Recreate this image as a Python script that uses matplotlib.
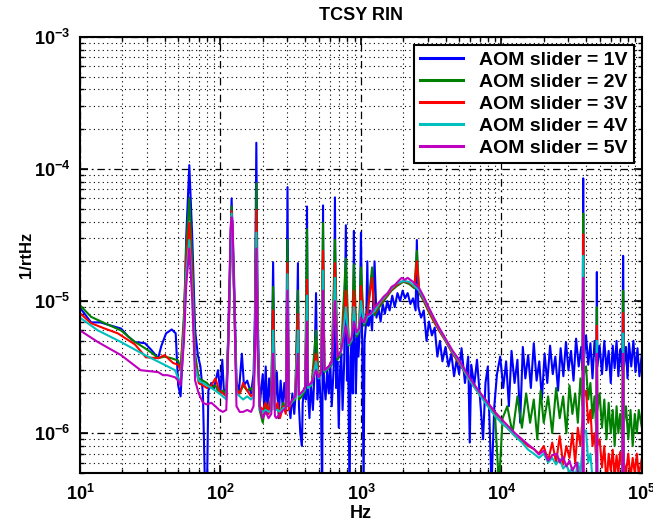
import matplotlib
matplotlib.use("Agg")
import matplotlib.pyplot as plt
from matplotlib.ticker import FixedLocator, LogLocator, NullFormatter

# (Hz, 1/rtHz), one list per AOM slider setting
aom_1v = [(10, 8.9e-6), (11, 7.8e-6), (12, 6.9e-6), (14, 6.9e-6), (16, 6.6e-6), (19.6, 6.2e-6),
          (22, 5.4e-6), (24.6, 4.9e-6), (29, 4.8e-6), (32, 4.3e-6), (36, 3.7e-6), (38, 4.6e-6),
          (41, 5.7e-6), (45, 6.1e-6), (48, 5.7e-6), (50, 2.3e-6), (52, 1.9e-6), (55, 6e-6),
          (57, 3e-5), (60, 1.07e-4), (63, 3e-5), (66, 6e-6), (69, 3.9e-6), (72, 3.2e-6),
          (75, 2.0e-6), (78, 3e-7), (80, 3e-7), (82, 2.1e-6), (86, 2.4e-6), (90, 2.2e-6),
          (96, 3.0e-6), (100, 2.0e-6), (103, 3.6e-6), (106, 2.0e-6), (111, 2.2e-6), (115, 1e-5),
          (120, 6.0e-5), (125, 1.5e-5), (130, 2.5e-6), (135, 2.0e-6), (142, 4.0e-6), (147, 2.3e-6),
          (155, 2.5e-6), (165, 2.0e-6), (172, 2.8e-6), (176, 8e-6), (180, 1.58e-4), (184, 8e-6),
          (190, 1.6e-6), (200, 2.8e-6), (205, 1.5e-6), (210, 3.2e-6), (215, 1.4e-6), (222, 2.6e-6),
          (230, 1.5e-6), (237, 1.97e-5), (244, 1.6e-6), (252, 2.9e-6), (260, 1.3e-6), (268, 2.5e-6),
          (277, 1.6e-6), (285, 2.4e-6), (293, 1.6e-6), (300, 7.3e-5), (306, 1.7e-6), (315, 1.3e-6),
          (325, 2.0e-6), (335, 1.4e-6), (345, 2.2e-6), (356, 1.94e-5), (362, 1.6e-6), (370, 1.0e-6),
          (380, 8e-7), (385, 1.7e-6), (395, 2.2e-6), (405, 1.8e-6), (413, 5.2e-5), (420, 2.0e-6),
          (430, 1.3e-6), (440, 2.4e-6), (455, 1.5e-6), (465, 2.6e-6), (479, 1.15e-5), (490, 1.8e-6),
          (505, 2.8e-6), (520, 1.5e-6), (530, 3e-7), (537, 5.3e-5), (545, 2.5e-6), (560, 1.8e-6),
          (575, 3.0e-6), (590, 2.0e-6), (605, 3.4e-6), (620, 1.6e-6), (640, 3.2e-6), (653, 6.1e-5),
          (665, 2.2e-6), (680, 3.5e-6), (695, 1.1e-6), (710, 3.0e-6), (725, 4.0e-6), (740, 1.5e-6),
          (760, 3.5e-6), (781, 3.75e-5), (795, 2.5e-6), (810, 4.5e-6), (830, 3e-7), (845, 3.8e-6),
          (860, 5.0e-6), (875, 2.0e-6), (891, 3.4e-5), (905, 4.5e-6), (920, 2.0e-6), (940, 5.5e-6),
          (960, 3.8e-6), (980, 6.0e-6), (1000, 3.3e-5), (1020, 5.5e-6), (1045, 4e-7), (1060, 5.0e-6),
          (1090, 7.0e-6), (1110, 2.0e-5), (1130, 6.5e-6), (1160, 8.5e-6), (1200, 6.0e-6), (1250, 2.0e-5),
          (1290, 7.5e-6), (1330, 9.0e-6), (1380, 7.0e-6), (1430, 9.5e-6), (1480, 8.0e-6), (1540, 1.0e-5),
          (1600, 8.5e-6), (1670, 1.1e-5), (1740, 9.0e-6), (1820, 1.15e-5), (1900, 1.0e-5), (1980, 1.2e-5),
          (2060, 1.05e-5), (2150, 1.15e-5), (2250, 9.5e-6), (2350, 1.05e-5), (2450, 8.5e-6), (2500, 2.9e-5),
          (2560, 9.0e-6), (2680, 7.5e-6), (2800, 8.5e-6), (2930, 5.0e-6), (3050, 7.0e-6), (3200, 5.5e-6),
          (3350, 6.3e-6), (3500, 3.8e-6), (3650, 5.0e-6), (3800, 3.5e-6), (4000, 4.5e-6), (4200, 3.2e-6),
          (4400, 4.0e-6), (4600, 2.7e-6), (4800, 3.6e-6), (5000, 2.8e-6), (5200, 4.4e-6), (5500, 2.4e-6),
          (5800, 3.8e-6), (5950, 8.5e-7), (6100, 3.3e-6), (6400, 2.3e-6), (6700, 3.6e-6), (7000, 2.0e-6),
          (7400, 9e-7), (7700, 2.4e-6), (8000, 3.2e-6), (8500, 4e-7), (8900, 1.6e-6), (9300, 2.8e-6),
          (9800, 3.8e-6), (10300, 2.2e-6), (10800, 3.5e-6), (11300, 1.6e-6), (11800, 4.2e-6), (12400, 2.4e-6),
          (13000, 3.6e-6), (13600, 1.2e-6), (14200, 4.5e-6), (14800, 2.6e-6), (15500, 3.9e-6), (16200, 2.2e-6),
          (17000, 4.8e-6), (17800, 2.5e-6), (18600, 3.5e-6), (19400, 1.8e-6), (20300, 4.0e-6), (21200, 2.4e-6),
          (22200, 4.6e-6), (23200, 2.8e-6), (24200, 3.8e-6), (25300, 2.1e-6), (26400, 4.4e-6), (27600, 2.7e-6),
          (28800, 4.9e-6), (30000, 3.0e-6), (31300, 4.2e-6), (32600, 2.5e-6), (34000, 5.2e-6), (35500, 3.2e-6),
          (37000, 4.5e-6), (37800, 3.0e-6), (38200, 8.5e-5), (38600, 3.5e-6), (40000, 5.5e-6), (41500, 3.3e-6),
          (43000, 4.8e-6), (44500, 2.6e-6), (46000, 5.0e-6), (47400, 3.5e-6), (47800, 1.66e-5), (48200, 3.2e-6),
          (50000, 4.6e-6), (52000, 2.8e-6), (54000, 5.0e-6), (56000, 3.0e-6), (58000, 4.2e-6), (60000, 2.4e-6),
          (62000, 4.6e-6), (64000, 3.1e-6), (66000, 5.0e-6), (68000, 2.7e-6), (70000, 4.3e-6), (72500, 3.0e-6),
          (73500, 2.2e-5), (74500, 3.2e-6), (77000, 4.5e-6), (79000, 2.6e-6), (81000, 4.8e-6), (84000, 3.2e-6),
          (87000, 5.0e-6), (90000, 2.9e-6), (93000, 4.4e-6), (96000, 2.7e-6), (100000, 4.0e-6)]

aom_2v = [(10, 9.3e-6), (12, 7.6e-6), (15, 6.8e-6), (19.6, 6.0e-6), (24, 5.0e-6), (29, 4.4e-6),
          (33, 4.0e-6), (36, 3.7e-6), (40, 3.8e-6), (44.5, 3.7e-6), (50, 3.55e-6), (52, 3.0e-6),
          (55, 8e-6), (57, 2.5e-5), (60, 6.0e-5), (63, 2e-5), (66, 4e-6), (70, 2.6e-6), (75, 2.5e-6),
          (80, 2.4e-6), (86, 2.2e-6), (92, 2.3e-6), (98, 2.0e-6), (104, 2.1e-6), (110, 2.0e-6),
          (115, 8e-6), (120, 5.2e-5), (125, 1.2e-5), (130, 2.2e-6), (137, 2.0e-6), (145, 2.3e-6),
          (155, 2.1e-6), (165, 2.2e-6), (172, 2.0e-6), (176, 6e-6), (180, 7.8e-5), (184, 6e-6),
          (190, 1.5e-6), (200, 1.2e-6), (210, 1.7e-6), (220, 1.5e-6), (230, 1.8e-6), (237, 1.28e-5),
          (244, 1.5e-6), (255, 1.6e-6), (265, 1.4e-6), (280, 1.7e-6), (292, 1.5e-6), (300, 2.9e-5),
          (306, 1.6e-6), (320, 1.7e-6), (340, 1.8e-6), (356, 1.2e-5), (362, 1.8e-6), (380, 1.9e-6),
          (400, 2.1e-6), (413, 3.5e-5), (420, 2.2e-6), (445, 2.3e-6), (479, 6e-6), (500, 2.6e-6),
          (520, 2.8e-6), (537, 3.9e-5), (550, 2.9e-6), (590, 3.1e-6), (620, 3.3e-6), (653, 2.9e-5),
          (680, 3.6e-6), (720, 4.0e-6), (781, 2.1e-5), (820, 4.6e-6), (860, 5.0e-6), (891, 1.9e-5),
          (930, 5.4e-6), (970, 5.8e-6), (1000, 1.8e-5), (1050, 6.5e-6), (1100, 7.2e-6), (1200, 1.8e-5),
          (1250, 7.8e-6), (1350, 9.0e-6), (1500, 1.05e-5), (1650, 1.2e-5), (1800, 1.3e-5), (2000, 1.4e-5),
          (2200, 1.35e-5), (2400, 1.25e-5), (2500, 2.4e-5), (2600, 1.15e-5), (2800, 1.0e-5), (3000, 8.5e-6),
          (3300, 7.0e-6), (3600, 6.0e-6), (4000, 5.0e-6), (4500, 4.0e-6), (5000, 3.4e-6), (5600, 2.8e-6),
          (6300, 2.3e-6), (7000, 2.0e-6), (8000, 1.7e-6), (9000, 1.4e-6), (9600, 4e-7), (10200, 1.3e-6),
          (11000, 1.6e-6), (12000, 1.0e-6), (13000, 1.9e-6), (14000, 1.1e-6), (15000, 2.0e-6), (16000, 1.2e-6),
          (17000, 1.8e-6), (18000, 9e-7), (19000, 2.1e-6), (20000, 1.2e-6), (21500, 1.9e-6), (23000, 1.0e-6),
          (24500, 2.2e-6), (26000, 1.3e-6), (27500, 1.9e-6), (29000, 1.0e-6), (30500, 2.3e-6), (32000, 1.4e-6),
          (33500, 2.0e-6), (35000, 1.2e-6), (36500, 2.6e-6), (37800, 1.6e-6), (38200, 4.6e-5), (38600, 2.8e-6),
          (40000, 3.2e-6), (41500, 1.8e-6), (43000, 2.4e-6), (44500, 1.3e-6), (46000, 1.9e-6), (47400, 1.0e-6),
          (47800, 9e-6), (48200, 1.5e-6), (50000, 2.0e-6), (52000, 1.1e-6), (54000, 1.8e-6), (56000, 9e-7),
          (58000, 1.7e-6), (60000, 1.0e-6), (62000, 1.5e-6), (64000, 8e-7), (66000, 1.6e-6), (68000, 1.0e-6),
          (70000, 1.4e-6), (72500, 9e-7), (73500, 1.2e-5), (74500, 1.2e-6), (77000, 1.6e-6), (80000, 9e-7),
          (83000, 1.5e-6), (86000, 8e-7), (89000, 1.4e-6), (92000, 1.0e-6), (95000, 1.5e-6), (100000, 1.1e-6)]

aom_3v = [(10, 8.1e-6), (12, 6.8e-6), (15, 6.2e-6), (18.6, 5.7e-6), (24.6, 4.7e-6), (29.5, 3.75e-6),
          (36, 3.7e-6), (40, 3.9e-6), (46, 3.4e-6), (50, 3.3e-6), (52, 3.0e-6), (55, 7e-6), (57, 2e-5),
          (60, 3.9e-5), (63, 1.5e-5), (66, 3.5e-6), (70, 2.4e-6), (75, 2.3e-6), (80, 2.2e-6), (86, 2.3e-6),
          (92, 2.6e-6), (98, 2.1e-6), (104, 2.0e-6), (110, 1.9e-6), (115, 7e-6), (120, 4.8e-5), (125, 1.1e-5),
          (130, 2.1e-6), (137, 2.0e-6), (145, 2.4e-6), (155, 2.1e-6), (165, 1.9e-6), (172, 2.0e-6), (176, 5e-6),
          (180, 4.9e-5), (184, 5e-6), (190, 1.6e-6), (200, 1.5e-6), (210, 1.7e-6), (220, 1.4e-6), (230, 1.9e-6),
          (237, 8.5e-6), (244, 1.5e-6), (255, 1.7e-6), (265, 1.3e-6), (280, 1.6e-6), (292, 1.4e-6), (300, 1.94e-5),
          (306, 1.5e-6), (320, 1.7e-6), (340, 1.9e-6), (356, 8e-6), (362, 1.9e-6), (380, 2.0e-6), (400, 2.2e-6),
          (413, 1.45e-5), (420, 2.2e-6), (445, 2.4e-6), (479, 4e-6), (500, 2.7e-6), (520, 2.9e-6), (537, 2.4e-5),
          (550, 3.0e-6), (590, 3.2e-6), (620, 3.5e-6), (653, 1.94e-5), (680, 3.8e-6), (720, 4.1e-6), (781, 1.2e-5),
          (820, 4.8e-6), (860, 5.2e-6), (891, 1.2e-5), (930, 5.6e-6), (970, 6.0e-6), (1000, 1.3e-5), (1050, 6.8e-6),
          (1100, 7.5e-6), (1200, 1.5e-5), (1250, 8.2e-6), (1350, 9.4e-6), (1500, 1.08e-5), (1650, 1.22e-5),
          (1800, 1.33e-5), (2000, 1.42e-5), (2200, 1.38e-5), (2400, 1.28e-5), (2500, 2.0e-5), (2600, 1.18e-5),
          (2800, 1.02e-5), (3000, 8.7e-6), (3300, 7.1e-6), (3600, 6.0e-6), (4000, 5.0e-6), (4500, 4.0e-6),
          (5000, 3.4e-6), (5600, 2.8e-6), (6300, 2.3e-6), (7000, 1.95e-6), (8000, 1.65e-6), (9000, 1.38e-6),
          (10000, 1.2e-6), (11000, 1.1e-6), (12500, 9.5e-7), (14000, 8.8e-7), (15500, 8.0e-7), (17000, 7.6e-7),
          (18500, 7.0e-7), (20000, 8.0e-7), (21500, 6.2e-7), (23000, 8.5e-7), (24500, 6.0e-7), (26000, 9.5e-7),
          (27500, 5.8e-7), (29000, 8.0e-7), (30500, 6.5e-7), (32000, 1.0e-6), (33500, 6.0e-7), (35000, 1.1e-6),
          (36500, 8.0e-7), (37800, 1.3e-6), (38200, 3.2e-5), (38600, 1.9e-6), (40000, 2.1e-6), (41500, 1.2e-6),
          (43000, 1.5e-6), (44500, 8e-7), (46000, 1.0e-6), (47400, 6e-7), (47800, 6.5e-6), (48200, 8e-7),
          (50000, 9e-7), (52000, 5.5e-7), (54000, 8e-7), (56000, 4e-7), (58000, 7e-7), (60000, 5.2e-7),
          (62000, 7.5e-7), (64000, 4.5e-7), (66000, 6.8e-7), (68000, 5.0e-7), (70000, 7.2e-7), (72500, 5.5e-7),
          (73500, 8.1e-6), (74500, 6e-7), (77000, 5.0e-7), (80000, 7.0e-7), (83000, 4.5e-7), (86000, 6.5e-7),
          (89000, 5.0e-7), (92000, 7.0e-7), (95000, 4.8e-7), (100000, 6.5e-7)]

aom_4v = [(10, 7.5e-6), (13.4, 6.0e-6), (19.6, 4.9e-6), (29, 3.9e-6), (37.7, 3.4e-6), (47.5, 3.0e-6),
          (50, 2.6e-6), (52, 2.5e-6), (55, 6e-6), (57, 1.6e-5), (60, 2.9e-5), (63, 1.2e-5), (66, 3.2e-6),
          (70, 2.5e-6), (75, 2.4e-6), (80, 2.3e-6), (86, 2.2e-6), (92, 2.1e-6), (98, 2.0e-6), (104, 1.9e-6),
          (110, 1.8e-6), (115, 7e-6), (120, 4.6e-5), (125, 1.1e-5), (130, 2.0e-6), (137, 1.9e-6), (145, 1.8e-6),
          (155, 1.9e-6), (165, 1.8e-6), (172, 1.9e-6), (176, 5e-6), (180, 3.3e-5), (184, 5e-6), (190, 1.5e-6),
          (200, 1.45e-6), (210, 1.5e-6), (220, 1.45e-6), (230, 1.5e-6), (237, 6e-6), (244, 1.5e-6), (255, 1.5e-6),
          (265, 1.45e-6), (280, 1.55e-6), (292, 1.55e-6), (300, 1.6e-5), (306, 1.6e-6), (320, 1.7e-6),
          (340, 1.85e-6), (356, 6e-6), (362, 1.9e-6), (380, 2.0e-6), (400, 2.15e-6), (413, 1.1e-5), (420, 2.2e-6),
          (445, 2.35e-6), (479, 3.5e-6), (500, 2.6e-6), (520, 2.8e-6), (537, 1.7e-5), (550, 2.95e-6),
          (590, 3.15e-6), (620, 3.4e-6), (653, 1.5e-5), (680, 3.8e-6), (720, 4.1e-6), (781, 9e-6), (820, 4.7e-6),
          (860, 5.1e-6), (891, 9e-6), (930, 5.6e-6), (970, 6.0e-6), (1000, 1.0e-5), (1050, 6.8e-6), (1100, 7.5e-6),
          (1250, 8.4e-6), (1350, 9.6e-6), (1500, 1.1e-5), (1650, 1.25e-5), (1800, 1.36e-5), (2000, 1.42e-5),
          (2200, 1.4e-5), (2400, 1.3e-5), (2600, 1.2e-5), (2800, 1.05e-5), (3000, 9e-6), (3300, 7.4e-6),
          (3600, 6.2e-6), (4000, 5.1e-6), (4500, 4.1e-6), (5000, 3.5e-6), (5600, 2.8e-6), (6300, 2.3e-6),
          (7000, 1.95e-6), (8000, 1.6e-6), (9000, 1.35e-6), (10000, 1.2e-6), (11000, 1.1e-6), (12500, 9.5e-7),
          (14000, 8.5e-7), (15500, 7.5e-7), (17000, 7.0e-7), (18500, 6.5e-7), (20000, 7.0e-7), (21500, 6.0e-7),
          (23000, 6.5e-7), (24500, 5.8e-7), (26000, 6.4e-7), (27500, 5.4e-7), (29000, 5.8e-7), (30500, 5.0e-7),
          (32000, 5.5e-7), (33500, 4.6e-7), (35000, 6e-7), (36500, 5e-7), (37800, 8e-7), (38200, 2.2e-5),
          (38600, 1.0e-6), (40000, 1.05e-6), (41500, 6e-7), (43000, 7e-7), (44500, 4.5e-7), (47400, 5e-7),
          (47800, 5e-6), (48200, 4.5e-7), (50000, 5e-7), (52000, 4e-7), (55000, 3.5e-7), (72500, 3.5e-7),
          (73500, 5.7e-6), (74500, 3.5e-7), (100000, 3.5e-7)]

aom_5v = [(10, 6.0e-6), (13.4, 4.9e-6), (19.6, 3.9e-6), (27, 3.0e-6), (36, 2.9e-6), (39, 2.75e-6),
          (42, 2.75e-6), (47.5, 2.65e-6), (50, 2.5e-6), (52, 2.3e-6), (55, 5e-6), (57, 1.3e-5), (60, 2.5e-5),
          (63, 1e-5), (66, 2.5e-6), (70, 2.0e-6), (75, 1.7e-6), (80, 1.65e-6), (86, 1.7e-6), (92, 1.6e-6),
          (98, 1.5e-6), (104, 1.45e-6), (110, 1.5e-6), (114, 5e-6), (118, 3.5e-5), (120, 4.3e-5), (122, 4.0e-5),
          (126, 8e-6), (130, 1.6e-6), (137, 1.45e-6), (145, 1.45e-6), (155, 1.5e-6), (165, 1.45e-6),
          (172, 1.6e-6), (176, 4e-6), (180, 2.5e-5), (184, 4e-6), (190, 1.6e-6), (200, 1.3e-6), (210, 1.45e-6),
          (220, 1.3e-6), (230, 1.4e-6), (237, 4e-6), (244, 1.35e-6), (250, 1.3e-6), (265, 1.4e-6), (280, 1.5e-6),
          (292, 1.55e-6), (300, 1.2e-5), (306, 1.6e-6), (320, 1.75e-6), (340, 1.9e-6), (356, 4e-6), (362, 1.95e-6),
          (380, 2.05e-6), (400, 2.2e-6), (413, 7e-6), (420, 2.3e-6), (445, 2.4e-6), (479, 3e-6), (500, 2.65e-6),
          (520, 2.85e-6), (537, 1.2e-5), (550, 3.0e-6), (590, 3.2e-6), (620, 3.45e-6), (653, 1.0e-5), (680, 3.8e-6),
          (720, 4.2e-6), (781, 6.5e-6), (820, 4.8e-6), (860, 5.3e-6), (891, 7e-6), (930, 5.8e-6), (970, 6.2e-6),
          (1000, 7.5e-6), (1050, 6.9e-6), (1100, 7.8e-6), (1170, 8.0e-6), (1250, 9.0e-6), (1350, 9.8e-6),
          (1450, 1.08e-5), (1550, 1.15e-5), (1650, 1.28e-5), (1750, 1.33e-5), (1850, 1.42e-5), (1950, 1.5e-5),
          (2050, 1.45e-5), (2150, 1.5e-5), (2300, 1.42e-5), (2450, 1.35e-5), (2600, 1.25e-5), (2800, 1.08e-5),
          (3000, 9.2e-6), (3300, 7.5e-6), (3600, 6.3e-6), (4000, 5.2e-6), (4500, 4.2e-6), (5000, 3.6e-6),
          (5600, 2.9e-6), (6300, 2.4e-6), (7000, 2.05e-6), (8000, 1.7e-6), (9000, 1.45e-6), (10000, 1.28e-6),
          (11000, 1.15e-6), (12500, 1.0e-6), (14000, 9e-7), (15500, 8.2e-7), (17000, 7.6e-7), (18500, 6.9e-7),
          (20000, 7.4e-7), (21500, 6.2e-7), (23000, 6.8e-7), (24800, 7.0e-7), (26000, 6.0e-7), (27500, 6.6e-7),
          (29000, 5.6e-7), (30500, 6.2e-7), (32000, 5.2e-7), (34400, 6.0e-7), (35500, 4.6e-7), (37000, 4.2e-7),
          (37800, 4e-7), (38200, 1.5e-5), (38600, 4e-7), (40000, 3.5e-7), (47400, 3.5e-7), (47800, 4e-6),
          (48200, 3.5e-7), (72500, 3.5e-7), (73500, 4e-6), (74500, 3.5e-7), (100000, 3.5e-7)]

labels = ["AOM slider = 1V", "AOM slider = 2V", "AOM slider = 3V", "AOM slider = 4V", "AOM slider = 5V"]
colors = ["#0000ff", "#008000", "#ff0000", "#00bfbf", "#bf00bf"]

plt.rcParams["font.family"] = ["Liberation Sans", "DejaVu Sans"]
plt.rcParams["font.weight"] = "bold"
plt.rcParams["mathtext.fontset"] = "custom"
plt.rcParams["mathtext.bf"] = "Liberation Sans:bold"
plt.rcParams["mathtext.rm"] = "Liberation Sans:bold"

fig = plt.figure(figsize=(6.53, 5.27), dpi=100)
ax = fig.add_axes([0.1225, 0.1025, 0.8605, 0.8275])

for data, lab, col in zip([aom_1v, aom_2v, aom_3v, aom_4v, aom_5v], labels, colors):
    f, v = zip(*data)
    ax.plot(f, v, color=col, lw=1.5, label=lab)

ax.set_xscale("log")
ax.set_yscale("log")
ax.set_xlim(10, 1e5)
ax.set_ylim(5e-7, 1e-3)

xt = [1e1, 1e2, 1e3, 1e4, 1e5]
yt = [1e-6, 1e-5, 1e-4, 1e-3]
ax.xaxis.set_major_locator(FixedLocator(xt))
ax.yaxis.set_major_locator(FixedLocator(yt))
ax.set_xticklabels([r"$\mathbf{10^{%d}}$" % e for e in [1, 2, 3, 4, 5]])
ax.set_yticklabels([r"$\mathbf{10^{%d}}$" % e for e in [-6, -5, -4, -3]])
ax.xaxis.set_minor_locator(LogLocator(base=10, subs=range(2, 10), numticks=20))
ax.yaxis.set_minor_locator(LogLocator(base=10, subs=range(2, 10), numticks=20))
ax.xaxis.set_minor_formatter(NullFormatter())
ax.yaxis.set_minor_formatter(NullFormatter())

ax.tick_params(which="both", direction="in", top=True, right=True, labelsize=13)
ax.tick_params(which="major", length=6, width=1.2)
ax.tick_params(axis="x", which="major", pad=8)
ax.tick_params(axis="y", which="major", pad=7)
ax.tick_params(which="minor", length=3, width=1)
for s in ax.spines.values():
    s.set_linewidth(1.5)

ax.grid(which="major", color="black", linestyle=(0, (6, 3, 1.5, 3)), linewidth=0.9)
ax.grid(which="minor", color="black", linestyle=(0, (1, 3)), linewidth=0.8)
ax.set_axisbelow(True)

ax.set_title("TCSY RIN", fontsize=13, fontweight="bold", pad=12)
ax.set_xlabel("Hz", fontsize=13, fontweight="bold")
ax.xaxis.set_label_coords(0.5, -0.074)
ax.set_ylabel("1/rtHz", fontsize=12, fontweight="bold", labelpad=0)

leg = ax.legend(loc="upper right", prop={"weight": "bold", "size": 14},
                fancybox=False, framealpha=1, edgecolor="black", borderaxespad=0.4,
                handlelength=2.2, labelspacing=0.22, borderpad=0.35, handletextpad=0.8)
leg.get_frame().set_linewidth(1.5)
for line in leg.get_lines():
    line.set_linewidth(2.2)

fig.savefig("out.png", dpi=100)
